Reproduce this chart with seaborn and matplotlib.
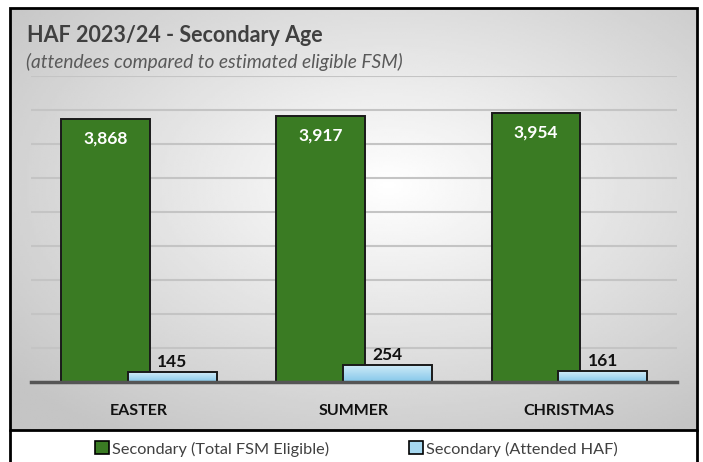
import numpy as np
import pandas as pd
import seaborn as sns
import matplotlib.pyplot as plt
from matplotlib.patches import Patch, Rectangle
from matplotlib.lines import Line2D
from matplotlib.colors import LinearSegmentedColormap

periods = ['EASTER', 'SUMMER', 'CHRISTMAS']
fsm_eligible = [3868, 3917, 3954]
attended_haf = [145, 254, 161]
series_names = ['Secondary (Total FSM Eligible)', 'Secondary (Attended HAF)']

GREEN = '#3a7b23'
BLUE = '#a6d8f0'

sns.set_style('white')
plt.rcParams['font.family'] = ['Lato', 'DejaVu Sans']

fig = plt.figure(figsize=(7.03, 4.62), dpi=100)

# background with soft radial gradient inside the chart border
bg = fig.add_axes([0.0142, 0.0693, 0.9773, 0.9134], zorder=-10)
yy, xx = np.mgrid[0:1:200j, 0:1:300j]
r = np.sqrt(((xx - 0.55) / 0.72) ** 2 + ((yy - 0.42) / 0.72) ** 2)
bg.imshow(1 - np.clip(r, 0, 1) * 0.23, cmap='gray', vmin=0, vmax=1,
          aspect='auto', extent=[0, 1, 0, 1])
bg.set_axis_off()

ax = fig.add_axes([0.0441, 0.1732, 0.919, 0.6623])
ax.patch.set_alpha(0)

df = pd.DataFrame({'period': periods, 'eligible': fsm_eligible, 'attended': attended_haf})

w, off = 0.413, 0.155
sns.barplot(data=df, x='period', y='eligible', color=GREEN, width=w,
            edgecolor='#1a1a1a', linewidth=1.4, saturation=1, ax=ax, zorder=2)
green_bars = list(ax.patches)
sns.barplot(data=df, x='period', y='attended', color=BLUE, width=w,
            edgecolor='#1a1a1a', linewidth=1.4, saturation=1, ax=ax, zorder=3)
blue_bars = list(ax.patches[len(green_bars):])

for p in green_bars:
    p.set_x(p.get_x() - off)
grad = np.linspace(0, 1, 50).reshape(-1, 1)
bcmap = LinearSegmentedColormap.from_list('b', ['#86c8ea', '#d2ecf8'])
for p in blue_bars:
    p.set_x(p.get_x() + off)
    x0, y0, bw, bh = p.get_x(), p.get_y(), p.get_width(), p.get_height()
    im = ax.imshow(grad, cmap=bcmap, aspect='auto', origin='lower',
                   extent=[x0, x0 + bw, y0, y0 + bh], zorder=2.9)
    im.set_clip_path(p)
    p.set_facecolor('none')

for i, p in enumerate(green_bars):
    ax.text(p.get_x() + p.get_width() / 2, fsm_eligible[i] - 170, f'{fsm_eligible[i]:,}',
            ha='center', va='top', color='white', fontsize=12.5, fontweight='bold', zorder=5)
for i, p in enumerate(blue_bars):
    ax.text(p.get_x() + p.get_width() / 2, attended_haf[i] + 30, f'{attended_haf[i]:,}',
            ha='center', va='bottom', color='#111111', fontsize=12.5, fontweight='bold', zorder=5)

ax.set_xlim(-0.5, 2.5)
ax.set_ylim(0, 4500)
ax.set_yticks(np.arange(0, 4501, 500))
ax.yaxis.grid(True, color='#c4c4c4', linewidth=1.5, zorder=0)
ax.set_axisbelow(True)
ax.tick_params(axis='y', left=False, labelleft=False)
ax.tick_params(axis='x', bottom=False, pad=12)
ax.set_xlabel('')
ax.set_ylabel('')
for lbl in ax.get_xticklabels():
    lbl.set_fontweight('bold')
    lbl.set_fontsize(11.5)
    lbl.set_color('#111111')
for s in ['top', 'right', 'left']:
    ax.spines[s].set_visible(False)
ax.spines['bottom'].set_color('#555555')
ax.spines['bottom'].set_linewidth(2.5)
ax.spines['bottom'].set_zorder(4)

fig.text(27 / 703, 1 - 36 / 462, 'HAF 2023/24 - Secondary Age', fontsize=15.5,
         fontweight='bold', color='#404040', va='center', ha='left')
fig.text(26 / 703, 1 - 62 / 462, '(attendees compared to estimated eligible FSM)',
         fontsize=13.8, fontstyle='italic', color='#595959', va='center', ha='left')

# chart border and legend box sides
fig.add_artist(Rectangle((0.0142, 0.0693), 0.9773, 0.9134, transform=fig.transFigure,
                         fill=False, edgecolor='black', linewidth=2, zorder=20))
for xv in (0.0142, 0.9915):
    fig.add_artist(Line2D([xv, xv], [0, 0.0693], transform=fig.transFigure,
                          color='black', linewidth=2, zorder=20))

handles = [Patch(facecolor=GREEN, edgecolor='black', linewidth=1.2),
           Patch(facecolor=BLUE, edgecolor='black', linewidth=1.2)]
fig.legend(handles, series_names, loc='center', bbox_to_anchor=(0.507, 13 / 462), ncol=2,
           frameon=False, fontsize=11.7, handlelength=0.85, handleheight=0.85,
           handletextpad=0.2, columnspacing=4.9, labelcolor='#404040')

fig.savefig('out.png', dpi=100, facecolor='white')
